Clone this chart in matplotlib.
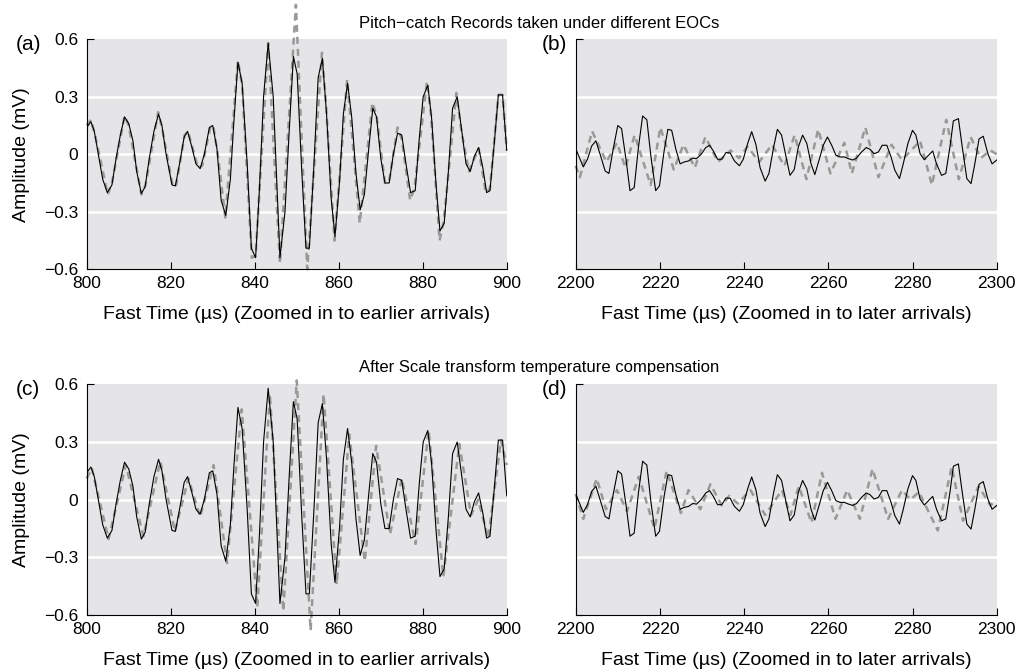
import matplotlib
matplotlib.use("Agg")
import matplotlib.pyplot as plt

# black reference record, earlier arrivals (panels a and c)
t_early_ref = [800.0, 801.0, 801.8, 803.8, 804.9, 806.0, 807.0, 808.0, 809.0, 810.0,
               811.0, 811.9, 813.0, 813.9, 814.9, 816.0, 817.1, 817.9, 818.9, 820.3,
               821.1, 822.1, 823.2, 824.0, 825.0, 826.0, 827.0, 828.0, 829.2, 830.0,
               831.0, 832.0, 833.1, 834.2, 835.0, 836.0, 837.0, 838.2, 839.2, 840.2,
               841.1, 842.1, 843.2, 844.4, 846.0, 847.2, 848.2, 849.2, 850.1, 851.2,
               852.2, 853.0, 854.1, 855.1, 856.1, 857.1, 858.2, 859.1, 860.2, 861.1,
               862.1, 863.1, 864.1, 865.1, 866.1, 867.1, 868.1, 869.0, 870.0, 871.0,
               872.0, 873.0, 874.0, 875.0, 876.0, 877.1, 878.2, 879.2, 880.1, 881.2,
               882.1, 883.2, 884.1, 885.1, 886.1, 887.1, 888.2, 889.3, 890.3, 891.3,
               892.3, 893.3, 894.3, 895.2, 896.0, 897.0, 898.0, 899.0, 900.0]
v_early_ref = [0.14, 0.17, 0.12, -0.13, -0.20, -0.16, -0.02, 0.10, 0.195, 0.16,
               0.07, -0.09, -0.205, -0.17, -0.02, 0.12, 0.21, 0.15, 0.0, -0.16,
               -0.165, -0.05, 0.09, 0.12, 0.04, -0.05, -0.075, 0.0, 0.14, 0.15,
               0.03, -0.24, -0.32, -0.13, 0.16, 0.48, 0.37, -0.05, -0.49, -0.54,
               -0.19, 0.30, 0.58, 0.30, -0.54, -0.30, 0.12, 0.51, 0.42, -0.09,
               -0.49, -0.49, -0.05, 0.40, 0.50, 0.21, -0.23, -0.43, -0.14, 0.21,
               0.37, 0.19, -0.10, -0.29, -0.21, 0.02, 0.24, 0.195, -0.02, -0.15,
               -0.15, 0.0, 0.11, 0.10, -0.05, -0.20, -0.19, 0.09, 0.30, 0.36,
               0.19, -0.17, -0.40, -0.36, -0.09, 0.24, 0.30, 0.12, -0.05, -0.09,
               -0.01, 0.035, -0.07, -0.20, -0.19, 0.05, 0.31, 0.31, 0.02]

# grey record under different EOC, before compensation (panel a)
t_early_raw = [800.0, 801.0, 802.0, 805.0, 806.0, 809.0, 810.0, 813.0, 814.0, 817.0,
               818.0, 820.5, 821.3, 823.3, 824.1, 826.5, 827.5, 829.5, 830.2, 831.2,
               833.0, 836.0, 837.0, 839.3, 840.2, 843.2, 846.0, 849.8, 852.5, 856.0,
               857.0, 859.0, 862.0, 865.0, 868.0, 869.0, 871.0, 872.0, 874.0, 875.0,
               877.0, 878.0, 881.0, 882.0, 884.0, 885.0, 888.0, 889.2, 891.0, 892.5,
               893.3, 895.0, 896.0, 898.0, 899.0, 900.0]
v_early_raw = [0.15, 0.18, 0.10, -0.21, -0.15, 0.20, 0.15, -0.21, -0.16, 0.22,
               0.13, -0.17, -0.16, 0.10, 0.12, -0.07, -0.06, 0.15, 0.14, 0.0,
               -0.33, 0.49, 0.36, -0.54, -0.53, 0.58, -0.57, 0.78, -0.60, 0.53,
               0.25, -0.45, 0.39, -0.36, 0.27, 0.20, -0.15, -0.14, 0.14, 0.08,
               -0.24, -0.18, 0.38, 0.20, -0.45, -0.35, 0.32, 0.12, -0.09, -0.01,
               0.03, -0.20, -0.18, 0.31, 0.31, 0.02]

# grey record after scale transform compensation (panel c)
t_early_comp = [800.0, 801.2, 805.2, 809.3, 813.5, 817.5, 821.0, 824.2, 827.0, 830.2,
                833.4, 836.9, 840.6, 843.6, 846.8, 850.0, 853.3, 856.4, 859.5, 862.5,
                866.2, 868.9, 872.2, 875.0, 878.3, 881.4, 884.9, 888.7, 891.5, 893.2,
                895.6, 898.6, 900.0]
v_early_comp = [0.11, 0.165, -0.205, 0.18, -0.19, 0.20, -0.165, 0.11, -0.09, 0.18,
                -0.33, 0.47, -0.56, 0.55, -0.58, 0.62, -0.68, 0.55, -0.44, 0.34,
                -0.32, 0.28, -0.18, 0.11, -0.23, 0.36, -0.40, 0.29, -0.08, 0.0,
                -0.20, 0.31, 0.18]

# black reference record, later arrivals (panels b and d)
t_late_ref = [2200.0, 2201.8, 2202.8, 2203.8, 2204.8, 2205.8, 2207.0, 2207.9, 2208.9, 2210.0,
              2210.9, 2212.0, 2212.9, 2213.9, 2214.9, 2215.9, 2216.9, 2217.9, 2219.0, 2219.9,
              2221.0, 2221.9, 2222.8, 2223.8, 2224.8, 2225.8, 2226.8, 2227.8, 2228.7, 2229.8,
              2230.9, 2231.8, 2232.7, 2233.7, 2234.7, 2235.7, 2236.7, 2237.7, 2238.9, 2239.8,
              2240.9, 2241.8, 2242.8, 2243.8, 2245.0, 2245.9, 2247.0, 2247.9, 2248.9, 2250.0,
              2250.9, 2251.9, 2252.9, 2253.9, 2254.9, 2255.9, 2256.8, 2257.9, 2258.8, 2259.8,
              2260.8, 2261.8, 2262.8, 2263.8, 2264.8, 2265.8, 2266.7, 2267.9, 2269.0, 2269.9,
              2270.9, 2271.9, 2272.8, 2273.9, 2274.9, 2275.8, 2276.9, 2277.8, 2278.9, 2280.0,
              2280.8, 2281.8, 2282.8, 2283.8, 2284.8, 2285.7, 2286.9, 2287.9, 2288.9, 2289.7,
              2290.9, 2291.8, 2292.9, 2293.9, 2294.8, 2295.8, 2296.8, 2297.9, 2298.9, 2300.0]
v_late_ref = [0.03, -0.066, -0.026, 0.043, 0.07, 0.0, -0.087, -0.10, 0.026, 0.15,
              0.134, -0.035, -0.19, -0.174, 0.035, 0.20, 0.18, -0.017, -0.19, -0.165,
              0.017, 0.13, 0.125, 0.026, -0.05, -0.04, -0.035, -0.02, -0.023, 0.0,
              0.035, 0.047, 0.017, -0.026, -0.026, 0.009, 0.007, -0.035, -0.06, -0.026,
              0.06, 0.118, 0.052, -0.07, -0.14, -0.10, 0.035, 0.13, 0.10, -0.017,
              -0.11, -0.08, 0.04, 0.10, 0.056, -0.05, -0.106, -0.023, 0.047, 0.09,
              0.047, -0.005, -0.014, -0.014, -0.023, -0.03, -0.02, 0.012, 0.035, 0.026,
              0.003, 0.012, 0.047, 0.047, -0.014, -0.083, -0.127, -0.05, 0.056, 0.125,
              0.10, 0.003, -0.028, -0.005, 0.017, -0.05, -0.11, -0.10, 0.04, 0.174,
              0.186, 0.04, -0.127, -0.153, -0.05, 0.08, 0.094, 0.003, -0.05, -0.03]

t_late_raw = [2200.0, 2201.0, 2203.9, 2207.3, 2209.8, 2211.8, 2214.0, 2217.8, 2220.1, 2223.3,
              2225.6, 2228.3, 2230.8, 2233.8, 2236.8, 2238.8, 2240.8, 2243.6, 2246.6, 2249.6,
              2252.0, 2254.8, 2257.6, 2260.5, 2263.8, 2265.6, 2268.8, 2271.9, 2275.0, 2277.5,
              2281.8, 2284.6, 2288.0, 2291.0, 2293.8, 2296.2, 2298.5, 2300.0]
v_late_raw = [-0.06, -0.12, 0.12, -0.04, 0.06, -0.07, 0.10, -0.16, 0.14, -0.08,
              0.05, -0.07, 0.09, -0.04, 0.02, -0.02, 0.04, -0.04, 0.05, -0.06,
              0.10, -0.13, 0.13, -0.10, 0.06, -0.10, 0.14, -0.12, 0.05, -0.03,
              0.07, -0.16, 0.18, -0.13, 0.09, -0.02, 0.02, 0.0]

t_late_comp = [2200.0, 2201.8, 2205.0, 2207.2, 2209.8, 2212.2, 2215.0, 2218.7, 2221.6, 2225.0,
               2226.8, 2229.6, 2232.0, 2234.7, 2236.5, 2238.5, 2241.5, 2245.0, 2249.0, 2251.0,
               2253.0, 2256.0, 2258.5, 2261.7, 2264.5, 2267.5, 2270.5, 2274.2, 2277.5, 2279.5,
               2281.5, 2286.0, 2289.3, 2292.0, 2295.7, 2298.5, 2300.0]
v_late_comp = [0.03, -0.10, 0.11, -0.05, 0.05, -0.06, 0.12, -0.15, 0.15, -0.07,
               0.05, -0.05, 0.08, -0.03, 0.02, -0.02, 0.05, -0.08, 0.05, -0.08,
               0.07, -0.12, 0.14, -0.10, 0.05, -0.10, 0.16, -0.10, 0.05, 0.0,
               0.04, -0.16, 0.17, -0.11, 0.07, -0.03, 0.0]

early_ticks = [800, 820, 840, 860, 880, 900]
late_ticks = [2200, 2220, 2240, 2260, 2280, 2300]

plt.rcParams['font.family'] = ['Liberation Sans', 'DejaVu Sans']

fig = plt.figure(figsize=(10.18, 6.69), dpi=100)


def panel(rect, t_ref, v_ref, t_grey, v_grey, ticks, xlabel, ylabels):
    ax = fig.add_axes(rect)
    ax.set_facecolor('#e5e5e7')
    ax.plot(t_grey, v_grey, color='#999999', lw=1.8, ls=(0, (2.8, 2.0)),
            clip_on=False, zorder=2)
    ax.plot(t_ref, v_ref, color='black', lw=0.8, zorder=3)
    ax.set_xlim(ticks[0], ticks[-1])
    ax.set_ylim(-0.6, 0.6)
    ax.set_xticks(ticks)
    ax.set_yticks([-0.3, 0, 0.3])
    ax.set_yticks([-0.6, 0.6], minor=True)
    if ylabels:
        ax.set_yticklabels(['\u22120.3', '0', '0.3'])
        ax.set_yticklabels(['\u22120.6', '0.6'], minor=True)
        ax.set_ylabel('Amplitude (mV)', fontsize=14, labelpad=10)
    else:
        ax.set_yticklabels([])
        ax.set_yticklabels([], minor=True)
    ax.grid(True, axis='y', which='major', color='white', lw=1.8)
    ax.set_axisbelow(True)
    ax.tick_params(axis='y', which='major', length=0, pad=6, labelsize=12.5)
    ax.tick_params(axis='y', which='minor', length=5, width=0.8, direction='in',
                   pad=6, labelsize=12.5)
    ax.tick_params(axis='x', length=5, width=0.8, direction='in', pad=5,
                   labelsize=12.5)
    for s in ['top', 'right']:
        ax.spines[s].set_visible(False)
    for s in ['left', 'bottom']:
        ax.spines[s].set_linewidth(0.8)
    ax.set_xlabel(xlabel, fontsize=14, labelpad=11)
    return ax


panel([0.0852, 0.5975, 0.4126, 0.3438], t_early_ref, v_early_ref, t_early_raw, v_early_raw,
      early_ticks, 'Fast Time (\u00b5s) (Zoomed in to earlier arrivals)', True)
panel([0.5655, 0.5975, 0.4136, 0.3438], t_late_ref, v_late_ref, t_late_raw, v_late_raw,
      late_ticks, 'Fast Time (\u00b5s) (Zoomed in to later arrivals)', False)
panel([0.0852, 0.0807, 0.4126, 0.3448], t_early_ref, v_early_ref, t_early_comp, v_early_comp,
      early_ticks, 'Fast Time (\u00b5s) (Zoomed in to earlier arrivals)', True)
panel([0.5655, 0.0807, 0.4136, 0.3448], t_late_ref, v_late_ref, t_late_comp, v_late_comp,
      late_ticks, 'Fast Time (\u00b5s) (Zoomed in to later arrivals)', False)

fig.text(0.5295, 0.965, 'Pitch\u2212catch Records taken under different EOCs',
         ha='center', va='center', fontsize=12)
fig.text(0.5295, 0.450, 'After Scale transform temperature compensation',
         ha='center', va='center', fontsize=12)
for lab, x, y in [('(a)', 0.0278, 0.934), ('(b)', 0.545, 0.934),
                  ('(c)', 0.0278, 0.4185), ('(d)', 0.545, 0.4185)]:
    fig.text(x, y, lab, ha='center', va='center', fontsize=15)

plt.savefig('out.png', dpi=100)
plt.close()
